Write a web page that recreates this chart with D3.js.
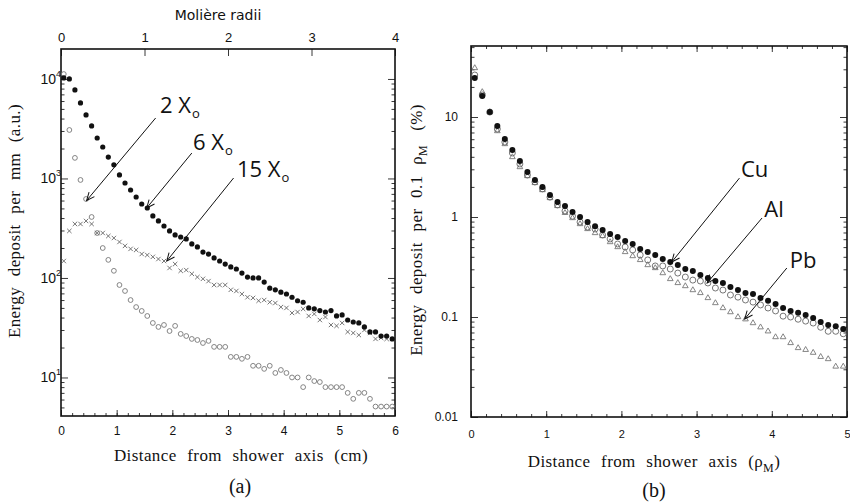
<!DOCTYPE html>
<html>
<head>
<meta charset="utf-8">
<title>Lateral shower profiles</title>
<script src="https://d3js.org/d3.v7.min.js" charset="utf-8"></script>
<style>
  body { margin: 0; background: #fff; }
</style>
</head>
<body>
<div class="box"></div>
<script type="text/javascript">
// ---- panel (a): energy deposit per mm vs distance (cm), three depths
var distCm = [0.05,0.15,0.25,0.35,0.45,0.55,0.65,0.75,0.85,0.95,
  1.05,1.15,1.25,1.35,1.45,1.55,1.65,1.75,1.85,1.95,
  2.05,2.15,2.25,2.35,2.45,2.55,2.65,2.75,2.85,2.95,
  3.05,3.15,3.25,3.35,3.45,3.55,3.65,3.75,3.85,3.95,
  4.05,4.15,4.25,4.35,4.45,4.55,4.65,4.75,4.85,4.95,
  5.05,5.15,5.25,5.35,5.45,5.55,5.65,5.75,5.85,5.95];
var dep2X0 = [11200,3070,1610,966,622,410,283,200,152,118,
  85,74,60,51,46.6,41.5,35.3,32.2,33.7,29.3,
  33,27.4,26.1,24.4,23.8,22.2,23.3,20.3,20.3,20.3,
  16.1,16.1,15.4,16.1,13.1,13.1,12.2,13.1,11.1,11.9,
  11.1,10,10,8.0,10,9.2,9.0,8.0,8.0,8.0,
  8.0,7.0,6.1,7.0,7.0,6.1,5.1,5.1,5.1,5.1];
var dep6X0 = [10230,10000,7750,5740,4350,3370,2550,2070,1640,1370,
  1085,900,766,651,554,505,420,374,333,297,
  271,258,247,220,205,182,174,159,148,138,
  129,123,112,102,100,100,91,79,76,72,
  69,64,59,57,50,49,47,45.5,47,41.5,
  42.5,37.8,36.1,35.3,32.2,28.7,28.7,26.1,26.1,24.4];
var dep15X0 = [148,297,349,349,374,349,283,283,264,252,
  230,210,196,191,174,170,163,155,148,126,
  138,118,120,110,102,98,93,85,85,85,
  76,74,69,64,63,59,60,57,56,51,
  50,44.5,45.5,48.8,41.5,43.5,37.8,40.5,33.7,33,
  35.3,28.7,28,26.7,30,28,24.4,25,24.4,24.4];
var cmTicks = [0,1,2,3,4,5,6];
var moliereTicks = [0,1,2,3,4];
var depTicksA = [10,100,1000,10000];
var depLabelsA = ["1","2","3","4"]; // exponents of 10

// ---- panel (b): energy deposit per 0.1 rho_M (%) vs distance (rho_M)
var distRho = [0.05,0.15,0.25,0.35,0.45,0.55,0.65,0.75,0.85,0.95,
  1.05,1.15,1.25,1.35,1.45,1.55,1.65,1.75,1.85,1.95,
  2.05,2.15,2.25,2.35,2.45,2.55,2.65,2.75,2.85,2.95,
  3.05,3.15,3.25,3.35,3.45,3.55,3.65,3.75,3.85,3.95,
  4.05,4.15,4.25,4.35,4.45,4.55,4.65,4.75,4.85,4.95];
var depCu = [24.5,16.2,11.2,8.13,6.03,4.68,3.63,2.82,2.34,2.0,
  1.66,1.41,1.29,1.12,1.0,0.89,0.81,0.74,0.676,0.63,
  0.575,0.537,0.479,0.447,0.417,0.38,0.355,0.331,0.302,0.288,
  0.263,0.245,0.229,0.219,0.2,0.186,0.174,0.17,0.155,0.145,
  0.135,0.123,0.115,0.11,0.105,0.098,0.089,0.083,0.081,0.076];
var depAl = [26.3,16.6,11.2,7.59,5.62,4.37,3.39,2.63,2.24,1.91,
  1.58,1.32,1.15,1.02,0.89,0.794,0.759,0.661,0.603,0.537,
  0.501,0.468,0.417,0.372,0.324,0.324,0.302,0.275,0.251,0.234,
  0.229,0.219,0.195,0.186,0.166,0.158,0.148,0.141,0.132,0.123,
  0.115,0.102,0.1,0.095,0.091,0.087,0.079,0.072,0.072,0.068];
var depPb = [30.9,17.8,11.2,7.24,5.37,3.98,3.16,2.57,2.19,1.86,
  1.55,1.29,1.10,0.977,0.851,0.759,0.692,0.646,0.562,0.501,
  0.447,0.407,0.372,0.331,0.309,0.275,0.240,0.219,0.204,0.186,
  0.174,0.155,0.138,0.123,0.112,0.1,0.095,0.087,0.079,0.072,
  0.063,0.063,0.055,0.049,0.047,0.044,0.040,0.038,0.032,0.032];
var rhoTicks = [0,1,2,3,4,5];
var depTicksB = [0.01,0.1,1,10];
var depLabelsB = ["0.01","0.1","1","10"];

// ---- layout
var width = 850, height = 502;
var serif = "'Liberation Serif', 'Times New Roman', serif";
var sans = "'Liberation Sans', Arial, sans-serif";
var labelSans = "'Open Sans', 'Noto Sans', sans-serif";

var svg = d3.select("div.box").append("svg")
  .attr("width", width)
  .attr("height", height);

svg.append("defs").append("marker")
  .attr("id", "arrow")
  .attr("viewBox", "-10 -5 12 10")
  .attr("refX", 0).attr("refY", 0)
  .attr("markerWidth", 12).attr("markerHeight", 10)
  .attr("markerUnits", "userSpaceOnUse")
  .attr("orient", "auto")
  .append("path")
  .attr("d", "M-8,-3.5L0,0L-8,3.5")
  .attr("fill", "none")
  .attr("stroke", "#111")
  .attr("stroke-width", 1);

function minorLog(domain) {
  var out = [];
  var lo = Math.floor(Math.log10(domain[0])), hi = Math.ceil(Math.log10(domain[1]));
  for (var e = lo; e <= hi; e++) {
    for (var k = 2; k <= 9; k++) {
      var v = k * Math.pow(10, e);
      if (v > domain[0] && v < domain[1]) out.push(v);
    }
  }
  return out;
}

function styleAxis(g, font, size) {
  g.select(".domain").remove();
  g.selectAll(".tick line").attr("stroke", "#222").attr("stroke-width", 0.9);
  g.selectAll(".tick text").attr("fill", "#111")
    .attr("font-family", font).attr("font-size", size);
}

function frame(g, x, y) {
  g.append("rect")
    .attr("x", x.range()[0]).attr("y", y.range()[1])
    .attr("width", x.range()[1] - x.range()[0])
    .attr("height", y.range()[0] - y.range()[1])
    .attr("fill", "none").attr("stroke", "#111").attr("stroke-width", 1.6);
}

function arrows(g, x, y, notes) {
  notes.forEach(function(n) {
    g.append("line")
      .attr("x1", x(n.from[0])).attr("y1", y(n.from[1]))
      .attr("x2", x(n.to[0])).attr("y2", y(n.to[1]))
      .attr("stroke", "#111").attr("stroke-width", 1)
      .attr("marker-end", "url(#arrow)");
    var t = g.append("text")
      .attr("x", x(n.text[0])).attr("y", y(n.text[1]))
      .attr("font-family", labelSans).attr("font-size", 22)
      .attr("fill", "#111")
      .text(n.label);
    if (n.sub) {
      t.append("tspan").attr("font-size", 13).attr("dy", 5).attr("dx", 1).text(n.sub);
    }
  });
}

// ================= panel (a)
var gA = svg.append("g");
var xA = d3.scaleLinear().domain([0, 6]).range([61, 395]);
var xMol = d3.scaleLinear().domain([0, 4]).range([61, 395]);
var yA = d3.scaleLog().domain([4.1, 20000]).range([416, 49]);

gA.append("g").attr("transform", "translate(0,416)")
  .call(d3.axisBottom(xA).tickValues(d3.range(0, 6.01, 0.2)).tickSize(-3).tickFormat(""))
  .call(styleAxis, sans, 12);
gA.append("g").attr("transform", "translate(0,416)")
  .call(d3.axisBottom(xA).tickValues(cmTicks).tickSize(-6).tickPadding(10).tickFormat(d3.format("d")))
  .call(styleAxis, sans, 12);
gA.append("g").attr("transform", "translate(0,49)")
  .call(d3.axisTop(xMol).tickValues(moliereTicks).tickSize(-7).tickPadding(7).tickFormat(d3.format("d")))
  .call(styleAxis, sans, 13);

[[61, d3.axisLeft], [395, d3.axisRight]].forEach(function(s) {
  gA.append("g").attr("transform", "translate(" + s[0] + ",0)")
    .call(s[1](yA).tickValues(minorLog(yA.domain())).tickSize(-3.5).tickFormat(""))
    .call(styleAxis, sans, 12);
  gA.append("g").attr("transform", "translate(" + s[0] + ",0)")
    .call(s[1](yA).tickValues(depTicksA).tickSize(-7).tickFormat(""))
    .call(styleAxis, sans, 12);
});

var yLab = gA.append("g").selectAll("text").data(depTicksA).enter().append("text")
  .attr("x", 61)
  .attr("y", function(d) { return yA(d) + 5; })
  .attr("text-anchor", "end")
  .attr("font-family", sans).attr("font-size", 14).attr("fill", "#111")
  .text("10");
yLab.append("tspan").attr("dy", -7).attr("font-size", 9)
  .text(function(d, i) { return depLabelsA[i]; });

frame(gA, xA, yA);

gA.append("g").selectAll("circle").data(dep2X0).enter().append("circle")
  .attr("cx", function(d, i) { return xA(distCm[i]); })
  .attr("cy", function(d) { return yA(d); })
  .attr("r", 2.4)
  .attr("fill", "none").attr("stroke", "#777").attr("stroke-width", 0.9);

gA.append("g").selectAll("path").data(dep15X0).enter().append("path")
  .attr("d", function(d, i) {
    var cx = xA(distCm[i]), cy = yA(d), s = 2.2;
    return "M" + (cx - s) + "," + (cy - s) + "L" + (cx + s) + "," + (cy + s) +
      "M" + (cx - s) + "," + (cy + s) + "L" + (cx + s) + "," + (cy - s);
  })
  .attr("stroke", "#666").attr("stroke-width", 0.9).attr("fill", "none");

gA.append("g").selectAll("circle").data(dep6X0).enter().append("circle")
  .attr("cx", function(d, i) { return xA(distCm[i]); })
  .attr("cy", function(d) { return yA(d); })
  .attr("r", 2.6)
  .attr("fill", "#111");

arrows(gA, xA, yA, [
  {label: "2 X", sub: "o", text: [1.78, 4550], from: [1.70, 4050], to: [0.46, 600]},
  {label: "6 X", sub: "o", text: [2.37, 1930], from: [2.35, 1800], to: [1.54, 505]},
  {label: "15 X", sub: "o", text: [3.16, 1035], from: [3.10, 1010], to: [1.90, 148]}
]);

gA.append("text")
  .attr("x", 218).attr("y", 20)
  .attr("text-anchor", "middle")
  .attr("font-family", "'DejaVu Sans', sans-serif").attr("font-size", 14).attr("fill", "#111")
  .text("Molière radii");

gA.append("text")
  .attr("x", 241).attr("y", 461)
  .attr("text-anchor", "middle")
  .attr("font-family", serif).attr("font-size", 17).attr("fill", "#111")
  .style("word-spacing", "6px").style("letter-spacing", "0.4px")
  .text("Distance from shower axis (cm)");

gA.append("text")
  .attr("transform", "translate(20,221) rotate(-90)")
  .attr("text-anchor", "middle")
  .attr("font-family", serif).attr("font-size", 17).attr("fill", "#111")
  .style("word-spacing", "6px").style("letter-spacing", "0.4px")
  .text("Energy deposit per mm (a.u.)");

gA.append("text")
  .attr("x", 240).attr("y", 493)
  .attr("text-anchor", "middle")
  .attr("font-family", serif).attr("font-size", 20).attr("fill", "#111")
  .text("(a)");

// ================= panel (b)
var gB = svg.append("g");
var xB = d3.scaleLinear().domain([0, 5]).range([471, 847]);
var yB = d3.scaleLog().domain([0.01, 51.3]).range([417, 46]);

[[417, d3.axisBottom], [46, d3.axisTop]].forEach(function(s, k) {
  gB.append("g").attr("transform", "translate(0," + s[0] + ")")
    .call(s[1](xB).tickValues(d3.range(0, 5.01, 0.2)).tickSize(-3).tickFormat(""))
    .call(styleAxis, sans, 11);
  gB.append("g").attr("transform", "translate(0," + s[0] + ")")
    .call(s[1](xB).tickValues(rhoTicks).tickSize(-6).tickPadding(13)
      .tickFormat(k === 0 ? d3.format("d") : ""))
    .call(styleAxis, sans, 11);
});

[[471, d3.axisLeft], [847, d3.axisRight]].forEach(function(s, k) {
  gB.append("g").attr("transform", "translate(" + s[0] + ",0)")
    .call(s[1](yB).tickValues(minorLog(yB.domain())).tickSize(-3.5).tickFormat(""))
    .call(styleAxis, sans, 12);
  gB.append("g").attr("transform", "translate(" + s[0] + ",0)")
    .call(s[1](yB).tickValues(depTicksB).tickSize(-7).tickPadding(13)
      .tickFormat(function(d, i) { return k === 0 ? depLabelsB[i] : ""; }))
    .call(styleAxis, sans, 12);
});

frame(gB, xB, yB);

gB.append("g").selectAll("path").data(depPb).enter().append("path")
  .attr("transform", function(d, i) { return "translate(" + xB(distRho[i]) + "," + yB(d) + ")"; })
  .attr("d", d3.symbol(d3.symbolTriangle, 14))
  .attr("fill", "none").attr("stroke", "#777").attr("stroke-width", 0.9);

gB.append("g").selectAll("circle").data(depAl).enter().append("circle")
  .attr("cx", function(d, i) { return xB(distRho[i]); })
  .attr("cy", function(d) { return yB(d); })
  .attr("r", 3)
  .attr("fill", "none").attr("stroke", "#666").attr("stroke-width", 0.9);

gB.append("g").selectAll("circle").data(depCu).enter().append("circle")
  .attr("cx", function(d, i) { return xB(distRho[i]); })
  .attr("cy", function(d) { return yB(d); })
  .attr("r", 3)
  .attr("fill", "#111");

arrows(gB, xB, yB, [
  {label: "Cu", text: [3.59, 2.5], from: [3.57, 2.45], to: [2.67, 0.355]},
  {label: "Al", text: [3.90, 0.99], from: [3.87, 0.977], to: [3.14, 0.219]},
  {label: "Pb", text: [4.24, 0.31], from: [4.20, 0.309], to: [3.64, 0.0955]}
]);

var xtB = gB.append("text")
  .attr("x", 654).attr("y", 467)
  .attr("text-anchor", "middle")
  .attr("font-family", serif).attr("font-size", 17).attr("fill", "#111")
  .style("word-spacing", "6px").style("letter-spacing", "0.4px")
  .text("Distance from shower axis (ρ");
xtB.append("tspan").attr("font-size", 12).attr("dy", 5).text("M");
xtB.append("tspan").attr("dy", -5).text(")");

var ytB = gB.append("text")
  .attr("transform", "translate(422,230) rotate(-90)")
  .attr("text-anchor", "middle")
  .attr("font-family", serif).attr("font-size", 17).attr("fill", "#111")
  .style("word-spacing", "6px").style("letter-spacing", "0.4px")
  .text("Energy deposit per 0.1 ρ");
ytB.append("tspan").attr("font-size", 12).attr("dy", 5).text("M");
ytB.append("tspan").attr("dy", -5).attr("dx", 14).text("(%)");

gB.append("text")
  .attr("x", 654).attr("y", 497)
  .attr("text-anchor", "middle")
  .attr("font-family", serif).attr("font-size", 20).attr("fill", "#111")
  .text("(b)");
</script>
</body>
</html>
